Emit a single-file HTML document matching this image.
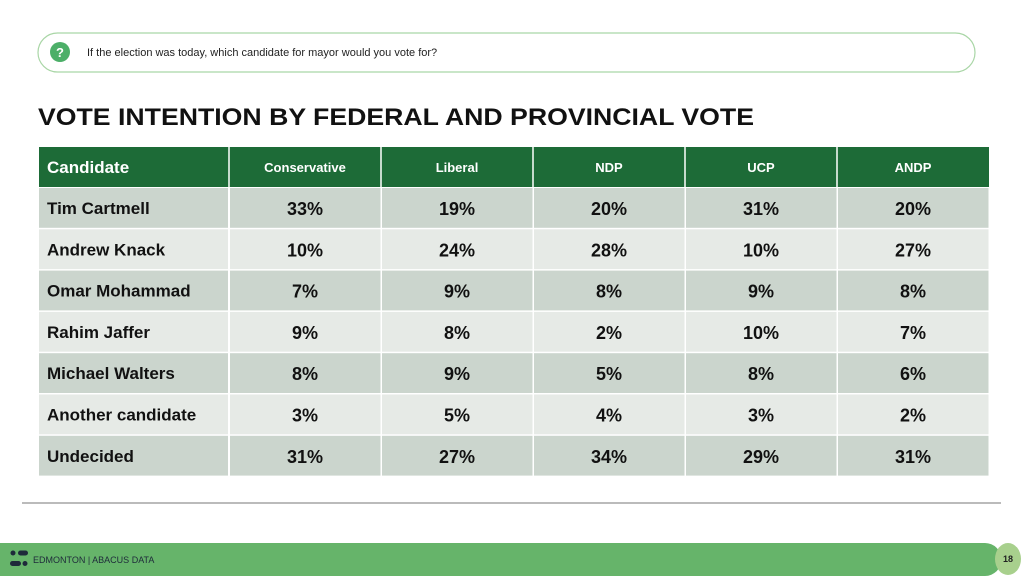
<!DOCTYPE html>
<html><head><meta charset="utf-8"><style>
html,body{margin:0;padding:0;background:#fff;}
svg{display:block;font-family:"Liberation Sans",sans-serif;}
</style></head><body>
<svg id="s" width="1024" height="576" viewBox="0 0 1024 576">
<rect x="38" y="33" width="937" height="39" rx="19.5" fill="#fff" stroke="#a9d6a6" stroke-width="1.2"/>
<circle cx="60" cy="52" r="10" fill="#4caf68"/>
<text x="60" y="57" font-size="13" font-weight="bold" fill="#fff" text-anchor="middle">?</text>
<text x="87" y="56" font-size="11" fill="#222">If the election was today, which candidate for mayor would you vote for?</text>
<text x="38" y="125" font-size="24" font-weight="bold" fill="#111" textLength="716" lengthAdjust="spacingAndGlyphs">VOTE INTENTION BY FEDERAL AND PROVINCIAL VOTE</text>
<g id="tbl"></g>
<line x1="22" y1="503" x2="1001" y2="503" stroke="#777" stroke-width="1"/>
<path d="M0 543 H985 A16.5 16.5 0 0 1 985 576 H0 Z" fill="#66b46a"/>
<g>
<circle cx="13" cy="553" r="2.5" fill="#1e2a3a"/><rect x="18" y="550.5" width="10" height="5" rx="2.5" fill="#1e2a3a"/>
<rect x="10" y="561" width="11" height="5" rx="2.5" fill="#1e2a3a"/><circle cx="25" cy="563.5" r="2.5" fill="#1e2a3a"/>
</g>
<text x="33" y="563" font-size="9" fill="#1e2a3a">EDMONTON  |  ABACUS DATA</text>
<ellipse cx="1008" cy="559" rx="13" ry="16" fill="#a8d08d"/>
<text x="1008" y="562" font-size="9" font-weight="bold" fill="#222" text-anchor="middle">18</text>
</svg>
<script>
const columns = ["Conservative","Liberal","NDP","UCP","ANDP"];
const candidates = ["Tim Cartmell","Andrew Knack","Omar Mohammad","Rahim Jaffer","Michael Walters","Another candidate","Undecided"];
const conservative = [33,10,7,9,8,3,31];
const liberal = [19,24,9,8,9,5,27];
const ndp = [20,28,8,2,5,4,34];
const ucp = [31,10,9,10,8,3,29];
const andp = [20,27,8,7,6,2,31];
const series = [conservative, liberal, ndp, ucp, andp];

const NS = "http://www.w3.org/2000/svg";
const g = document.getElementById("tbl");
const X0 = 39, W0 = 190, CW = 152, Y0 = 147, HH = 40, RH = 41.3;
function mk(tag, attrs){const e=document.createElementNS(NS,tag);for(const k in attrs)e.setAttribute(k,attrs[k]);g.appendChild(e);return e;}
let e;
e = mk("rect",{x:X0,y:Y0,width:W0+CW*columns.length,height:HH,fill:"#1d6b37"});


e = mk("text",{x:X0+8,y:Y0+26,"font-size":17,"font-weight":"bold",fill:"#fff"});
e.textContent="Candidate";


columns.forEach((c,j)=>{
  const x = X0+W0+CW*j;
  const l = mk("line",{x1:x,y1:Y0,x2:x,y2:Y0+HH,stroke:"#fff","stroke-width":1.5});
  
  
  const t = mk("text",{x:x+CW/2,y:Y0+25,"font-size":13,"font-weight":"bold",fill:"#fff","text-anchor":"middle"});
  t.textContent=c;
  
  
});
candidates.forEach((name,i)=>{
  const y = Y0+HH+1+RH*i;
  const fill = i%2===0 ? "#cbd5cd" : "#e6eae6";
  const r = mk("rect",{x:X0,y:y,width:W0-1,height:RH-1.5,fill:fill});
  
  
  const t = mk("text",{x:X0+8,y:y+26,"font-size":17,"font-weight":"bold",fill:"#111"});
  t.textContent=name;
  
  
  series.forEach((arr,j)=>{
    const x = X0+W0+CW*j;
    const c = mk("rect",{x:x+1,y:y,width:CW-1.5,height:RH-1.5,fill:fill});
    
    
    const v = mk("text",{x:x+CW/2,y:y+27,"font-size":18,"font-weight":"bold",fill:"#111","text-anchor":"middle"});
    v.textContent=arr[i]+"%";
    
    
  });
});
</script>
</body></html>
